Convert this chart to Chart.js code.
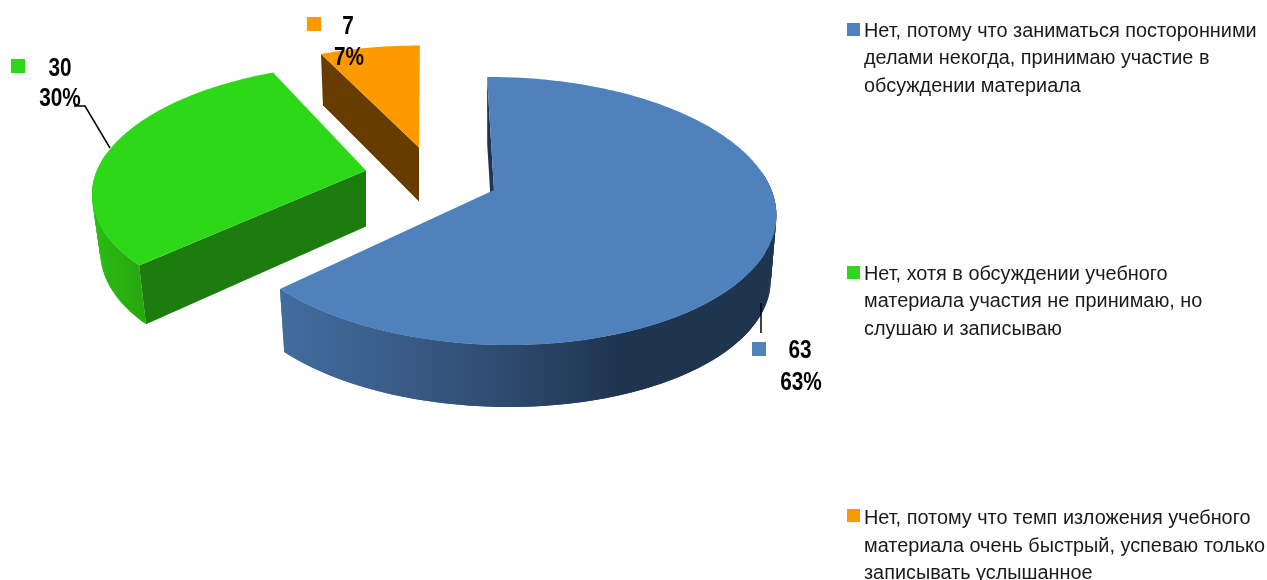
<!DOCTYPE html>
<html lang="ru">
<head>
<meta charset="utf-8">
<title>Pie</title>
<script src="https://cdn.jsdelivr.net/npm/chart.js@4"></script>
<style>
    html, body { margin: 0; padding: 0; background: #fff; overflow: hidden; width: 1267px; height: 580px; }
    #wrap { position: relative; width: 1267px; height: 580px; overflow: hidden; }
    canvas { position: absolute; left: 0; top: 0; }
    .val { position: absolute; font: bold 26px "Liberation Sans", Arial, sans-serif; color: #000; white-space: nowrap; line-height: 30px; transform: translate(-50%, -50%) scaleX(0.8); }
    .key { position: absolute; font: 20px/27.5px "Liberation Sans", Arial, sans-serif; color: #1a1a1a; white-space: pre; transform-origin: 0 0; transform: scaleX(0.993); }
    .swatch { position: absolute; }
</style>
</head>
<body>
<div id="wrap"><canvas id="pie" width="1267" height="580"></canvas></div>
<script>
const categories = [
    'Нет, потому что заниматься посторонними\nделами некогда, принимаю участие в\nобсуждении материала',
    'Нет, хотя в обсуждении учебного\nматериала участия не принимаю, но\nслушаю и записываю',
    'Нет, потому что темп изложения учебного\nматериала очень быстрый, успеваю только\nзаписывать услышанное'
];
const values = [63, 30, 7];
const colors = ['#4f81bd', '#2dd818', '#ff9900'];

// one projected disc per slice, the 3d look of the original is perspective
const discs = [
    { ax: 494, ay: 190, rx: 273, ry: 130.7, s: 8, k: 0.157, m: 0.016, sx: 0.98, sy: 0.98, depth: 65 },
    { ax: 366, ay: 170.5, rx: 269, ry: 123.7, s: -9.3, k: 0.157, m: 0, sx: 0.97, sy: 1.03, depth: 56 },
    { ax: 419, ay: 147.5, rx: 265, ry: 118, s: -1, k: 0.157, m: 0, sx: 0.98, sy: 1.03, depth: 54 }
];
const radialWall = ['#1f344f', '#1c7d0e', '#663c00'];
const outerWall = [
    { from: 278, to: 620, stops: ['#416d9f', '#3a5d89', '#2e4a6f', '#1f344f'] },
    { from: 92, to: 146, stops: ['#2cbc14', '#26a60f'] },
    null
];

// label layout: square, value line, percent line, leader line
const labelBoxes = [
    { sq: [752, 342], val: [800, 349], pct: [800.5, 381], leader: [[761, 303], [761, 333]] },
    { sq: [11, 59], val: [60, 67], pct: [59.5, 97], leader: [[110, 148], [85, 106], [74, 106]] },
    { sq: [307, 17], val: [348, 25], pct: [349, 56], leader: null }
];
const keyBoxes = [
    { sq: [847, 23], text: [864, 16.5] },
    { sq: [847, 266], text: [864, 259.5] },
    { sq: [847, 509], text: [864, 504] }
];

// Map an angle on the disc to the page, lower = bottom rim of the slice
function project(d, a, r, lower) {
    const u = Math.cos(a) * r;
    const v = Math.sin(a) * r;
    const w = 1 - d.k * v - d.m * u;
    const dx = (d.rx * u + d.s * v) / w;
    const dy = d.ry * v / w;
    if (lower) {
        return [d.ax + dx * d.sx, d.ay + dy * d.sy + d.depth];
    }
    return [d.ax + dx, d.ay + dy];
}

function rimPoints(d, start, end, lower) {
    const pts = [];
    const steps = Math.max(2, Math.ceil((end - start) / (Math.PI / 180)));
    for (let i = 0; i <= steps; i++) {
        pts.push(project(d, start + (end - start) * i / steps, 1, lower));
    }
    return pts;
}

function fillPoly(ctx, pts, fill) {
    ctx.beginPath();
    pts.forEach((p, i) => (i ? ctx.lineTo(p[0], p[1]) : ctx.moveTo(p[0], p[1])));
    ctx.closePath();
    ctx.fillStyle = fill;
    ctx.fill();
}

const pie3d = {
    id: 'pie3d',
    beforeDatasetsDraw(chart) {
        const ctx = chart.ctx;
        const arcs = chart.getDatasetMeta(0).data;
        ctx.save();
        [2, 1, 0].forEach(i => {
            const d = discs[i];
            const a0 = arcs[i].startAngle;
            const a1 = arcs[i].endAngle;

            // outer wall, only the part turned to the viewer
            // overlapping quads, a single polygon loses the straight silhouette at the side
            const wall = outerWall[i];
            if (wall) {
                let lo = a0;
                let hi = a1;
                while (Math.sin(lo) < -0.15 && lo < hi) lo += 0.01;
                while (Math.sin(hi) < -0.15 && hi > lo) hi -= 0.01;
                const grad = ctx.createLinearGradient(wall.from, 0, wall.to, 0);
                wall.stops.forEach((c, n) => grad.addColorStop(n / (wall.stops.length - 1), c));
                const top = rimPoints(d, lo, hi, false);
                const low = rimPoints(d, lo, hi, true);
                for (let n = 0; n < top.length - 1; n++) {
                    const m = Math.min(n + 2, top.length - 1);
                    fillPoly(ctx, [top[n], top[m], low[m], low[n]], grad);
                }
            }

            // cut face at the start of the slice
            fillPoly(ctx, [
                project(d, a0, 0, false),
                project(d, a0, 1, false),
                project(d, a0, 1, true),
                project(d, a0, 0, true)
            ], radialWall[i]);

            // top face
            fillPoly(ctx, [project(d, a0, 0, false)].concat(rimPoints(d, a0, a1, false)), arcs[i].options.backgroundColor);
        });

        // leader lines
        ctx.strokeStyle = '#000';
        ctx.lineWidth = 1.5;
        labelBoxes.forEach(box => {
            if (!box.leader) return;
            ctx.beginPath();
            box.leader.forEach((p, n) => (n ? ctx.lineTo(p[0], p[1]) : ctx.moveTo(p[0], p[1])));
            ctx.stroke();
        });
        ctx.restore();
        return false;
    }
};

new Chart(document.getElementById('pie').getContext('2d'), {
    type: 'pie',
    data: {
        labels: categories,
        datasets: [{ data: values, backgroundColor: colors, borderWidth: 0 }]
    },
    options: {
        responsive: false,
        animation: false,
        events: [],
        plugins: { legend: { display: false }, tooltip: { enabled: false } }
    },
    plugins: [pie3d]
});

// Labels and legend are plain text on top of the canvas
const wrap = document.getElementById('wrap');
const total = values.reduce((sum, v) => sum + v, 0);

function addSwatch(pos, size, color) {
    const el = document.createElement('div');
    el.className = 'swatch';
    el.style.cssText = `left:${pos[0]}px;top:${pos[1]}px;width:${size}px;height:${size}px;background:${color}`;
    wrap.appendChild(el);
}

function addVal(pos, text) {
    const el = document.createElement('div');
    el.className = 'val';
    el.style.left = pos[0] + 'px';
    el.style.top = pos[1] + 'px';
    el.textContent = text;
    wrap.appendChild(el);
}

values.forEach((v, i) => {
    const box = labelBoxes[i];
    addSwatch(box.sq, 14, colors[i]);
    addVal(box.val, String(v));
    addVal(box.pct, Math.round(v / total * 100) + '%');

    const key = keyBoxes[i];
    addSwatch(key.sq, 13, colors[i]);
    const el = document.createElement('div');
    el.className = 'key';
    el.style.left = key.text[0] + 'px';
    el.style.top = key.text[1] + 'px';
    el.textContent = categories[i];
    wrap.appendChild(el);
});
</script>
</body>
</html>
